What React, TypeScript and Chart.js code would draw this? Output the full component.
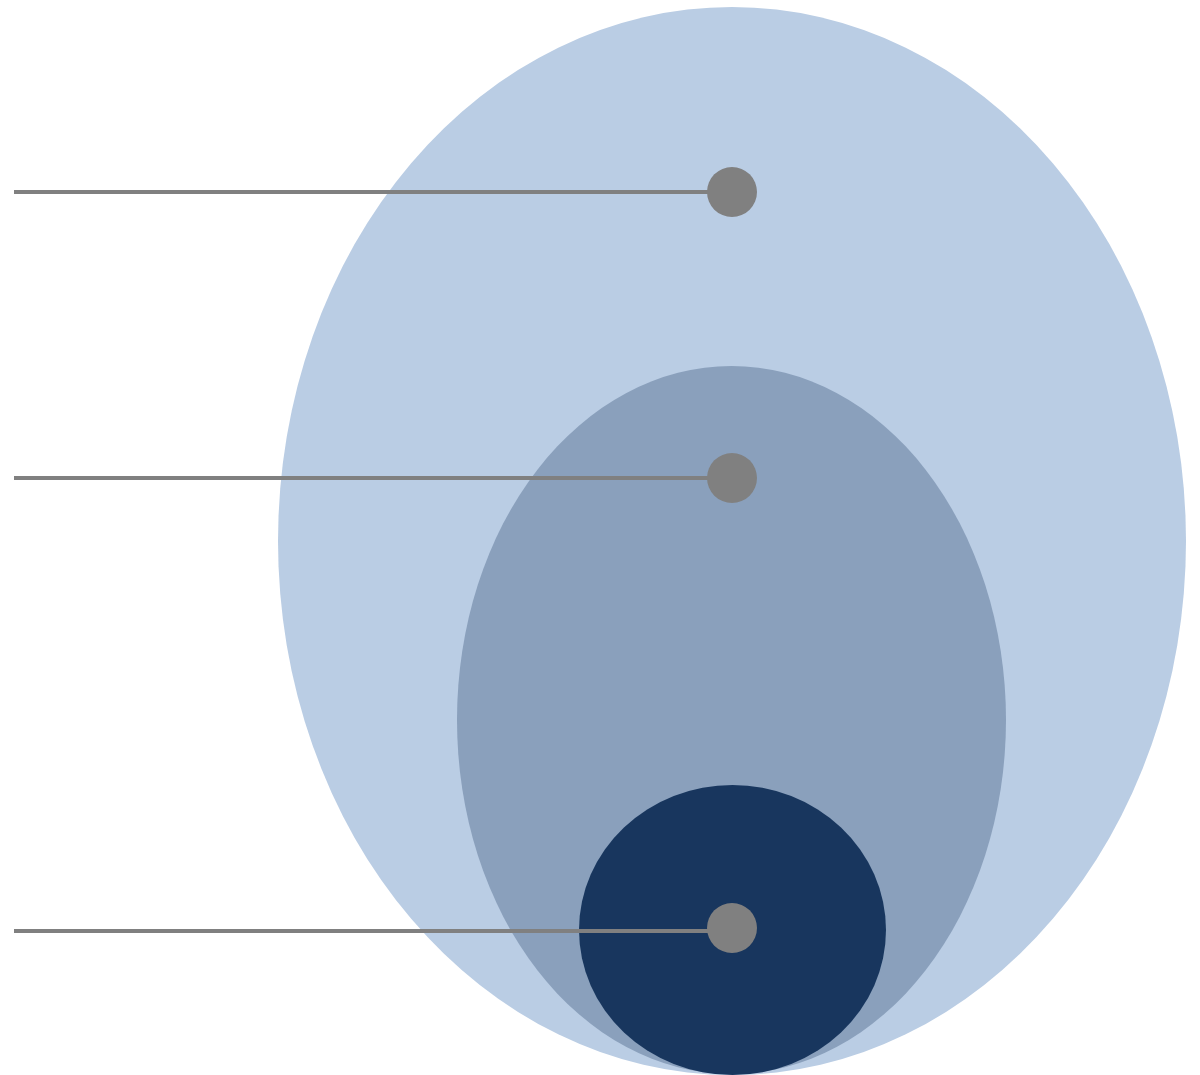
import React, { useEffect, useRef } from "react";
import { Chart, registerables } from "chart.js";

Chart.register(...registerables);

// Nested ellipses (outer, middle, inner), in chart data units
const ellipseNames = ["outer", "middle", "inner"];
const ellipseCenterX = [732, 731.5, 732.5];
const ellipseCenterY = [541, 720, 930];
const ellipseRadiusX = [454, 274.5, 153.5];
const ellipseRadiusY = [534, 354, 145];
const ellipseColors = ["#BACDE4", "#8AA0BC", "#18365E"];

// Marker dots and leader lines
const dotX = [732, 732, 732];
const dotY = [192, 478, 928];
const leaderStartX = [14, 14, 14];
const leaderEndX = [732, 732, 732];
const leaderY = [192, 478, 931];

const ellipsePlugin = {
  id: "nestedEllipses",
  beforeDatasetsDraw(chart: any) {
    const { ctx, scales } = chart;
    const xs = scales.x;
    const ys = scales.y;
    ctx.save();
    ellipseNames.forEach((_, i) => {
      const px = xs.getPixelForValue(ellipseCenterX[i]);
      const py = ys.getPixelForValue(ellipseCenterY[i]);
      const rx = Math.abs(xs.getPixelForValue(ellipseCenterX[i] + ellipseRadiusX[i]) - px);
      const ry = Math.abs(ys.getPixelForValue(ellipseCenterY[i] + ellipseRadiusY[i]) - py);
      ctx.beginPath();
      ctx.ellipse(px, py, rx, ry, 0, 0, Math.PI * 2);
      ctx.fillStyle = ellipseColors[i];
      ctx.fill();
    });
    ctx.restore();
  },
};

export default function App() {
  const ref = useRef<HTMLCanvasElement | null>(null);

  useEffect(() => {
    if (!ref.current) return;
    const datasets: any[] = [
      {
        type: "scatter",
        label: "dots",
        data: dotX.map((x, i) => ({ x, y: dotY[i] })),
        pointRadius: 25,
        pointHoverRadius: 25,
        pointBackgroundColor: "#808080",
        pointBorderWidth: 0,
        borderWidth: 0,
        clip: false,
      },
      ...leaderY.map((y, i) => ({
        type: "line",
        label: "leader" + i,
        data: [
          { x: leaderStartX[i], y },
          { x: leaderEndX[i], y },
        ],
        borderColor: "#808080",
        borderWidth: 4,
        pointRadius: 0,
        fill: false,
        tension: 0,
      })),
    ];
    const chart = new Chart(ref.current, {
      type: "scatter",
      data: { datasets },
      options: {
        responsive: false,
        animation: false,
        devicePixelRatio: 1,
        layout: { padding: 0, autoPadding: false },
        plugins: {
          legend: { display: false },
          tooltip: { enabled: false },
        },
        scales: {
          x: { type: "linear", min: 0, max: 1200, display: false },
          y: { type: "linear", min: 0, max: 1075, reverse: true, display: false },
        },
      } as any,
      plugins: [ellipsePlugin],
    });
    return () => chart.destroy();
  }, []);

  return (
    <div style={{ position: "absolute", left: 0, top: 0, width: 1200, height: 1075, background: "#fff" }}>
      <canvas ref={ref} width={1200} height={1075} style={{ display: "block" }} />
    </div>
  );
}
